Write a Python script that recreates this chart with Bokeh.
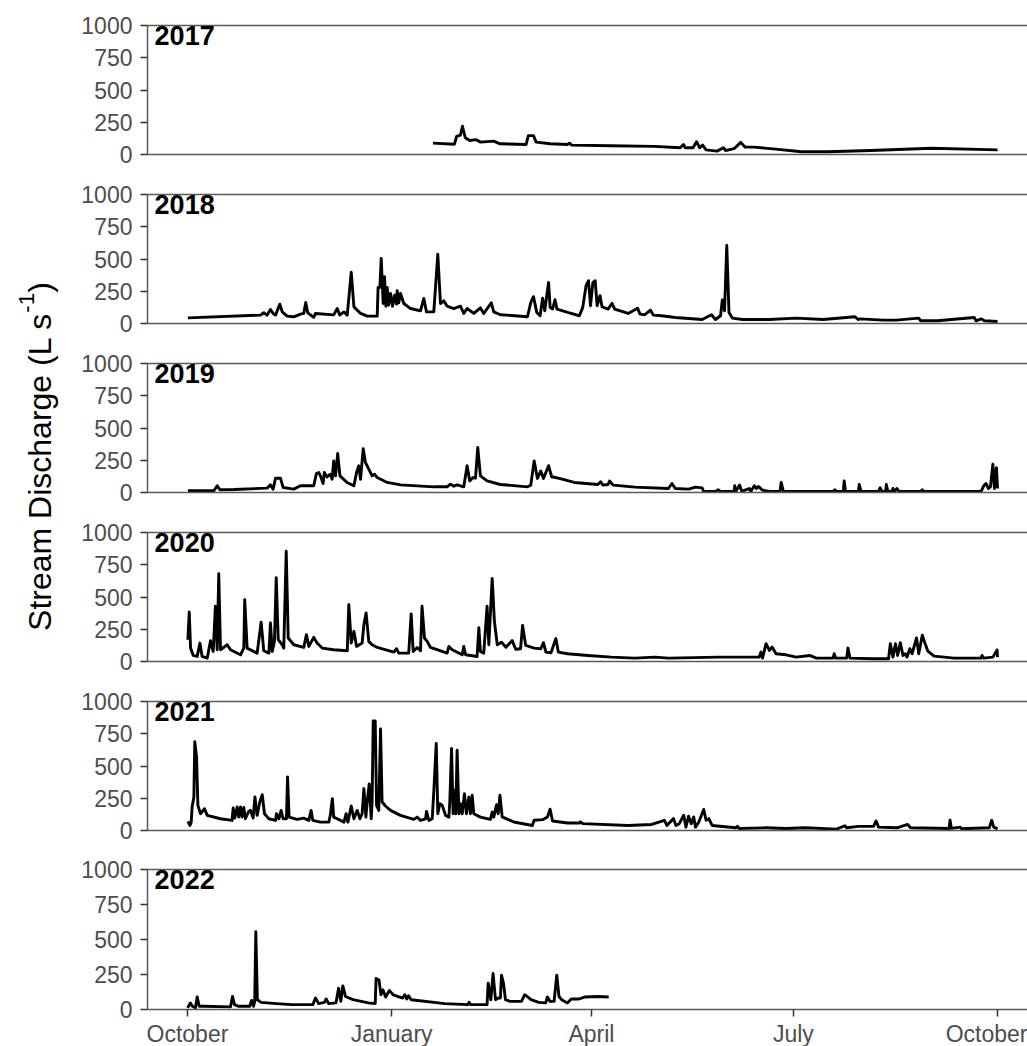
import math
from bokeh.plotting import figure
from bokeh.layouts import column, row
from bokeh.models import Range1d, FixedTicker, LinearAxis, Label, ColumnDataSource
from bokeh.embed import file_html
from bokeh.resources import INLINE

FONT = "Liberation Sans"

# Stream discharge by water year: (day since 1 October, discharge in L/s)
wy2017 = [
    (110.6, 88), (120.3, 80), (121.3, 140), (123.0, 150), (123.9, 219), (125.2, 130),
    (127.2, 109), (130.1, 115), (132.1, 96), (137.9, 104), (140.9, 83), (152.6, 78),
    (153.6, 146), (155.9, 146), (157.1, 96), (163.4, 83), (171.2, 78), (172.1, 88),
    (173.1, 73), (190.7, 68), (210.3, 63), (222.0, 52), (223.5, 78), (224.3, 52),
    (227.8, 52), (229.4, 99), (230.8, 52), (232.1, 73), (233.7, 36), (238.6, 26),
    (241.5, 52), (242.5, 31), (245.4, 42), (246.4, 47), (249.3, 94), (251.3, 57),
    (255.2, 57), (265.0, 42), (276.7, 21), (288.4, 21), (307.9, 31), (335.3, 49),
    (365.0, 36),
]
wy2018 = [
    (0.2, 44), (32.9, 65), (34.4, 83), (35.9, 65), (37.4, 109), (38.6, 78), (39.7, 65),
    (41.6, 150), (42.7, 90), (44.9, 57), (47.9, 52), (50.9, 72), (52.4, 78), (53.3, 163),
    (54.2, 83), (56.9, 47), (57.7, 78), (65.9, 67), (67.5, 116), (68.6, 65), (70.5, 90),
    (72.0, 65), (73.8, 398), (75.0, 129), (78.0, 78), (81.0, 57), (85.5, 57), (85.9, 279),
    (86.7, 279), (87.3, 505), (88.2, 155), (88.8, 362), (89.4, 134), (90.0, 279),
    (90.6, 142), (91.5, 233), (92.4, 134), (93.3, 220), (94.2, 150), (94.5, 255),
    (95.2, 160), (96.0, 233), (97.5, 155), (100.5, 116), (105.0, 98), (106.5, 194),
    (107.7, 90), (111.0, 90), (112.8, 537), (114.0, 155), (115.5, 176), (117.0, 134),
    (120.0, 116), (123.0, 134), (124.5, 78), (126.0, 116), (129.0, 78), (132.0, 121),
    (133.5, 78), (136.9, 160), (138.0, 90), (141.0, 68), (144.0, 65), (153.2, 52),
    (154.7, 164), (155.9, 208), (157.4, 86), (158.9, 60), (160.0, 197), (161.0, 99),
    (161.9, 216), (162.7, 319), (163.4, 125), (164.5, 112), (165.6, 184), (166.5, 112),
    (171.3, 86), (176.6, 60), (178.1, 125), (179.6, 293), (180.7, 332), (181.6, 138),
    (182.7, 319), (183.7, 332), (184.6, 138), (185.9, 216), (186.8, 130), (189.5, 112),
    (191.3, 156), (192.5, 112), (198.6, 78), (202.8, 119), (203.9, 73), (206.1, 68),
    (208.6, 104), (209.9, 65), (213.7, 60), (219.8, 47), (231.9, 31), (236.1, 68),
    (237.9, 31), (240.2, 60), (241.0, 182), (242.0, 99), (243.0, 605), (244.0, 86),
    (245.5, 42), (250.1, 31), (262.2, 31), (274.3, 42), (286.4, 31), (300.8, 52),
    (302.3, 31), (303.0, 36), (313.6, 26), (319.4, 26), (329.5, 42), (330.3, 21),
    (337.9, 21), (354.5, 47), (355.3, 21), (357.6, 36), (359.1, 21), (365.0, 16),
]
wy2019 = [
    (0.2, 13), (11.9, 13), (13.4, 52), (14.6, 21), (20.9, 23), (35.9, 34), (37.4, 59),
    (38.6, 26), (39.7, 111), (41.9, 111), (43.1, 39), (47.9, 26), (50.9, 52), (56.9, 52),
    (58.1, 147), (59.2, 155), (60.2, 116), (61.1, 70), (61.7, 155), (62.9, 121),
    (64.4, 142), (65.2, 103), (65.9, 245), (66.7, 129), (67.7, 302), (68.7, 129),
    (71.9, 78), (75.0, 52), (76.2, 155), (77.2, 207), (78.0, 103), (79.2, 340),
    (80.2, 233), (81.7, 181), (83.2, 129), (84.3, 142), (85.5, 116), (90.0, 78),
    (96.0, 59), (111.0, 44), (117.0, 44), (118.5, 65), (120.0, 49), (121.5, 59),
    (124.5, 44), (126.0, 207), (127.2, 90), (128.7, 116), (129.8, 111), (130.8, 350),
    (132.0, 129), (135.0, 90), (141.0, 62), (153.2, 44), (154.7, 57), (156.2, 245),
    (157.7, 109), (159.2, 167), (160.4, 109), (162.7, 208), (164.1, 122), (167.5, 109),
    (174.3, 78), (184.9, 62), (186.2, 83), (187.2, 57), (189.5, 62), (190.2, 89),
    (191.8, 57), (201.6, 42), (216.7, 31), (218.3, 70), (219.8, 31), (225.8, 26),
    (228.9, 42), (231.9, 36), (232.6, 8), (237.9, 8), (239.2, 21), (240.2, 8),
    (246.3, 8), (246.6, 52), (247.0, 8), (248.8, 57), (249.8, 8), (253.1, 31),
    (253.8, 8), (255.4, 52), (256.4, 31), (257.3, 47), (259.1, 18), (262.2, 8),
    (267.0, 8), (267.5, 78), (268.5, 10), (290.9, 8), (291.7, 21), (292.4, 8),
    (295.5, 8), (295.9, 89), (296.5, 8), (302.3, 8), (302.7, 62), (303.5, 8),
    (311.4, 8), (312.1, 36), (312.9, 8), (314.6, 8), (314.9, 62), (315.6, 8),
    (317.5, 8), (317.9, 31), (318.5, 8), (319.7, 31), (320.5, 8), (330.3, 8),
    (331.1, 21), (331.8, 8), (357.6, 8), (358.8, 52), (359.8, 70), (360.9, 31),
    (361.8, 44), (362.9, 219), (363.6, 31), (364.5, 193), (365.0, 31),
]
wy2020 = [
    (0.2, 169), (0.8, 384), (1.4, 104), (2.6, 47), (4.4, 39), (5.6, 143), (6.6, 39),
    (8.9, 26), (10.4, 161), (11.6, 78), (12.6, 428), (13.4, 91), (14.1, 680), (14.9, 91),
    (17.9, 130), (19.4, 91), (23.9, 52), (25.4, 104), (25.8, 480), (26.9, 104),
    (31.4, 65), (33.2, 304), (34.4, 83), (36.7, 65), (37.4, 299), (38.2, 78),
    (39.2, 156), (40.0, 649), (40.9, 169), (42.7, 130), (43.4, 104), (44.5, 855),
    (45.4, 182), (47.9, 130), (52.4, 109), (53.6, 208), (54.7, 117), (56.9, 187),
    (58.4, 143), (60.7, 104), (65.9, 91), (72.0, 83), (72.7, 441), (73.8, 143),
    (75.0, 234), (76.2, 117), (78.7, 143), (79.5, 286), (80.5, 377), (81.7, 156),
    (83.2, 130), (85.5, 109), (93.0, 73), (94.2, 99), (95.2, 65), (99.7, 65),
    (100.8, 369), (101.7, 78), (103.5, 109), (105.0, 83), (105.7, 428), (106.8, 182),
    (108.0, 156), (109.5, 109), (117.0, 65), (117.8, 117), (119.3, 91), (123.8, 52),
    (124.5, 117), (125.3, 52), (130.5, 39), (131.3, 262), (132.0, 78), (133.5, 65),
    (135.0, 428), (135.8, 130), (137.3, 644), (138.3, 312), (139.6, 130), (141.5, 150),
    (143.5, 110), (146.3, 162), (147.9, 95), (150.1, 99), (151.0, 280), (152.4, 125),
    (156.2, 104), (159.2, 99), (160.4, 146), (161.5, 73), (163.8, 68), (166.0, 178),
    (167.1, 73), (171.3, 60), (180.4, 47), (191.0, 34), (201.6, 26), (210.7, 34),
    (216.7, 26), (239.5, 34), (257.6, 34), (258.4, 73), (259.1, 26), (260.7, 138),
    (262.2, 86), (263.4, 112), (265.2, 60), (269.7, 52), (274.3, 34), (280.3, 47),
    (283.4, 26), (290.9, 26), (291.4, 60), (292.1, 26), (297.0, 26), (297.6, 104),
    (298.5, 26), (309.1, 21), (315.9, 21), (316.7, 138), (317.9, 34), (319.0, 138),
    (320.0, 47), (321.2, 146), (322.4, 47), (323.5, 60), (324.2, 34), (325.5, 99),
    (326.5, 60), (328.5, 183), (329.5, 60), (331.1, 204), (332.1, 151), (333.6, 80),
    (336.4, 42), (345.5, 26), (357.5, 26), (358.0, 47), (358.8, 26), (362.9, 34),
    (364.8, 90), (365.0, 34),
]
wy2021 = [
    (0.2, 70), (1.1, 39), (1.7, 65), (2.1, 182), (2.9, 260), (3.3, 688), (4.1, 571),
    (4.7, 195), (5.9, 130), (7.7, 169), (8.9, 117), (14.9, 91), (20.1, 78), (20.6, 174),
    (21.3, 96), (22.4, 182), (23.1, 104), (23.9, 182), (24.6, 104), (25.4, 179),
    (26.1, 91), (27.6, 148), (28.4, 156), (29.6, 96), (30.4, 260), (31.4, 117),
    (32.6, 221), (33.7, 278), (34.7, 130), (36.7, 91), (39.7, 78), (40.1, 130),
    (41.2, 91), (42.2, 156), (43.1, 91), (44.6, 91), (45.1, 416), (45.8, 104),
    (49.4, 86), (52.4, 96), (54.7, 78), (55.7, 156), (56.5, 78), (59.9, 65), (63.7, 65),
    (64.4, 122), (65.3, 247), (65.9, 104), (67.5, 91), (70.5, 65), (71.5, 130),
    (72.3, 65), (73.8, 190), (75.0, 91), (76.5, 156), (77.7, 91), (78.7, 130),
    (79.5, 325), (80.4, 104), (81.0, 221), (81.9, 361), (82.8, 91), (83.2, 221),
    (83.7, 849), (84.6, 849), (85.2, 195), (86.2, 156), (87.0, 787), (87.7, 221),
    (89.2, 190), (91.5, 156), (96.0, 117), (102.0, 86), (103.5, 104), (105.0, 78),
    (107.3, 91), (107.7, 148), (108.8, 78), (110.3, 91), (111.0, 304), (112.1, 675),
    (112.8, 130), (113.7, 208), (114.8, 195), (116.3, 117), (117.8, 104), (118.2, 221),
    (119.0, 636), (119.7, 130), (120.3, 312), (120.9, 130), (121.5, 623), (122.3, 130),
    (123.0, 208), (123.8, 130), (124.8, 286), (125.7, 130), (126.8, 260), (127.5, 130),
    (128.3, 273), (129.0, 130), (132.0, 104), (136.5, 86), (137.3, 143), (138.0, 104),
    (139.3, 200), (140.0, 130), (140.8, 273), (141.8, 105), (147.1, 66), (155.4, 39),
    (156.2, 79), (160.0, 84), (162.2, 105), (163.4, 165), (164.5, 74), (171.3, 58),
    (176.6, 58), (177.1, 68), (178.1, 53), (198.6, 39), (209.2, 47), (214.9, 79),
    (216.0, 39), (219.0, 92), (220.1, 39), (221.6, 53), (223.6, 118), (224.6, 26),
    (225.8, 111), (227.0, 53), (228.1, 105), (228.9, 26), (230.4, 66), (232.6, 163),
    (233.7, 79), (234.9, 92), (236.4, 39), (247.0, 21), (247.8, 32), (248.5, 16),
    (260.7, 21), (269.7, 16), (278.1, 21), (292.4, 11), (296.2, 37), (297.0, 21),
    (302.3, 32), (303.8, 32), (309.1, 32), (310.3, 74), (311.4, 26), (319.7, 21),
    (324.5, 47), (325.8, 21), (343.2, 16), (343.6, 79), (344.2, 16), (348.2, 26),
    (348.8, 13), (361.3, 21), (362.4, 79), (363.3, 26), (365.0, 13),
]
wy2022 = [
    (0.1, 12), (1.3, 47), (2.2, 23), (3.6, 12), (4.4, 89), (5.3, 23), (7.4, 23),
    (19.4, 19), (20.3, 93), (21.2, 35), (22.9, 23), (28.1, 23), (28.9, 65), (29.8, 23),
    (30.3, 58), (30.8, 556), (31.5, 70), (33.2, 51), (40.1, 42), (47.0, 35), (56.5, 35),
    (57.7, 82), (59.1, 42), (61.7, 51), (62.5, 75), (63.6, 42), (66.9, 47), (68.1, 152),
    (69.1, 58), (70.0, 168), (71.2, 93), (74.6, 70), (81.5, 47), (84.6, 42), (85.0, 222),
    (86.3, 210), (87.2, 105), (88.1, 140), (89.3, 89), (91.0, 135), (92.7, 105),
    (97.0, 82), (97.9, 105), (98.8, 75), (99.6, 98), (100.8, 70), (116.0, 42),
    (126.4, 35), (126.9, 51), (127.7, 35), (135.0, 35), (135.5, 187), (136.7, 70),
    (137.7, 257), (138.8, 70), (140.1, 82), (141.0, 82), (141.5, 245), (142.4, 187),
    (143.3, 70), (145.3, 58), (150.5, 58), (151.9, 105), (153.1, 93), (154.8, 70),
    (158.3, 51), (161.4, 47), (162.2, 89), (163.4, 58), (165.2, 58), (166.4, 245),
    (167.4, 93), (168.6, 70), (171.2, 47), (172.9, 75), (176.4, 75), (178.9, 89),
    (185.0, 93), (189.8, 89),
]

water_years = ["2017", "2018", "2019", "2020", "2021", "2022"]
records = [wy2017, wy2018, wy2019, wy2020, wy2021, wy2022]

month_days = [0, 92, 182, 273, 365]
month_labels = ["October", "January", "April", "July", "October"]
q_ticks = [0, 250, 500, 750, 1000]

# layout (pixels)
X_START, X_END = -18.0, 378.5
TITLE_W = 60
FRAME_W = 880
LEFT_BORDER = 87
TOP_GAP = 25
panel_heights = [129, 129, 129, 129, 129, 140]
bottom_gaps = [15, 15, 15, 15, 14, 37]

AXIS_GREY = "#5a5a5a"
TICK_GREY = "#333333"
LABEL_GREY = "#4d4d4d"


def blank_axis(ax):
    ax.ticker = FixedTicker(ticks=[])
    ax.axis_line_color = AXIS_GREY
    ax.axis_line_width = 1.5
    ax.major_tick_line_color = None
    ax.minor_tick_line_color = None
    ax.major_label_text_font_size = "0px"


panels = []
for i, (year, rec) in enumerate(zip(water_years, records)):
    last = i == len(water_years) - 1
    p = figure(
        frame_width=FRAME_W, frame_height=panel_heights[i],
        x_range=Range1d(X_START, X_END), y_range=Range1d(0, 1000),
        output_backend="svg", toolbar_location=None,
        min_border_left=LEFT_BORDER, min_border_right=0,
        min_border_top=TOP_GAP, min_border_bottom=bottom_gaps[i],
    )
    p.xgrid.visible = False
    p.ygrid.visible = False
    p.outline_line_color = None
    p.background_fill_color = "white"
    p.border_fill_color = "white"

    yax = p.yaxis[0]
    yax.ticker = FixedTicker(ticks=q_ticks)
    yax.axis_line_color = AXIS_GREY
    yax.axis_line_width = 1.5
    yax.major_tick_line_color = TICK_GREY
    yax.major_tick_line_width = 1.5
    yax.major_tick_out = 7
    yax.major_tick_in = 0
    yax.minor_tick_line_color = None
    yax.major_label_text_font = FONT
    yax.major_label_text_font_size = "23px"
    yax.major_label_text_color = LABEL_GREY
    yax.major_label_standoff = 8

    xax = p.xaxis[0]
    if last:
        xax.ticker = FixedTicker(ticks=month_days)
        xax.major_label_overrides = {d: lab for d, lab in zip(month_days, month_labels)}
        xax.axis_line_color = AXIS_GREY
        xax.axis_line_width = 1.5
        xax.major_tick_line_color = TICK_GREY
        xax.major_tick_line_width = 1.5
        xax.major_tick_out = 7
        xax.major_tick_in = 0
        xax.minor_tick_line_color = None
        xax.major_label_text_font = FONT
        xax.major_label_text_font_size = "23px"
        xax.major_label_text_color = LABEL_GREY
        xax.major_label_standoff = 4
    else:
        blank_axis(xax)

    top = LinearAxis()
    blank_axis(top)
    p.add_layout(top, "above")

    src = ColumnDataSource(dict(day=[d for d, _ in rec], q=[v for _, v in rec]))
    p.line("day", "q", source=src, line_color="black", line_width=2.9, line_join="round")

    p.add_layout(Label(
        x=X_START + 3.2, y=1000, text=year, text_font=FONT, text_font_style="bold",
        text_font_size="27px", text_color="black", text_baseline="top", text_align="left",
    ))
    panels.append(p)

# shared y-axis title
TITLE_SIZE = 32
title_fig = figure(
    width=TITLE_W, height=1046, x_range=Range1d(0, TITLE_W), y_range=Range1d(1046, 0),
    output_backend="svg", toolbar_location=None, x_axis_type=None, y_axis_type=None,
    min_border=0,
)
title_fig.xgrid.visible = False
title_fig.ygrid.visible = False
title_fig.outline_line_color = None

t_center = 456
main_w = 9.947 * TITLE_SIZE
sup_w = 0.889 * 0.7 * TITLE_SIZE
close_w = 0.333 * TITLE_SIZE
t_start = t_center + (main_w + sup_w + close_w) / 2
base_x = 39
common = dict(angle=math.pi / 2, text_font=FONT, text_color="black",
              text_align="left", text_baseline="alphabetic")
title_fig.add_layout(Label(x=base_x, y=t_start, text="Stream Discharge (L s",
                           text_font_size=f"{TITLE_SIZE}px", **common))
title_fig.add_layout(Label(x=base_x - 0.42 * TITLE_SIZE, y=t_start - main_w, text="-1",
                           text_font_size=f"{round(0.7 * TITLE_SIZE)}px", **common))
title_fig.add_layout(Label(x=base_x, y=t_start - main_w - sup_w, text=")",
                           text_font_size=f"{TITLE_SIZE}px", **common))

layout = row(title_fig, column(*panels))
open("out.html", "w").write(file_html(layout, INLINE))
